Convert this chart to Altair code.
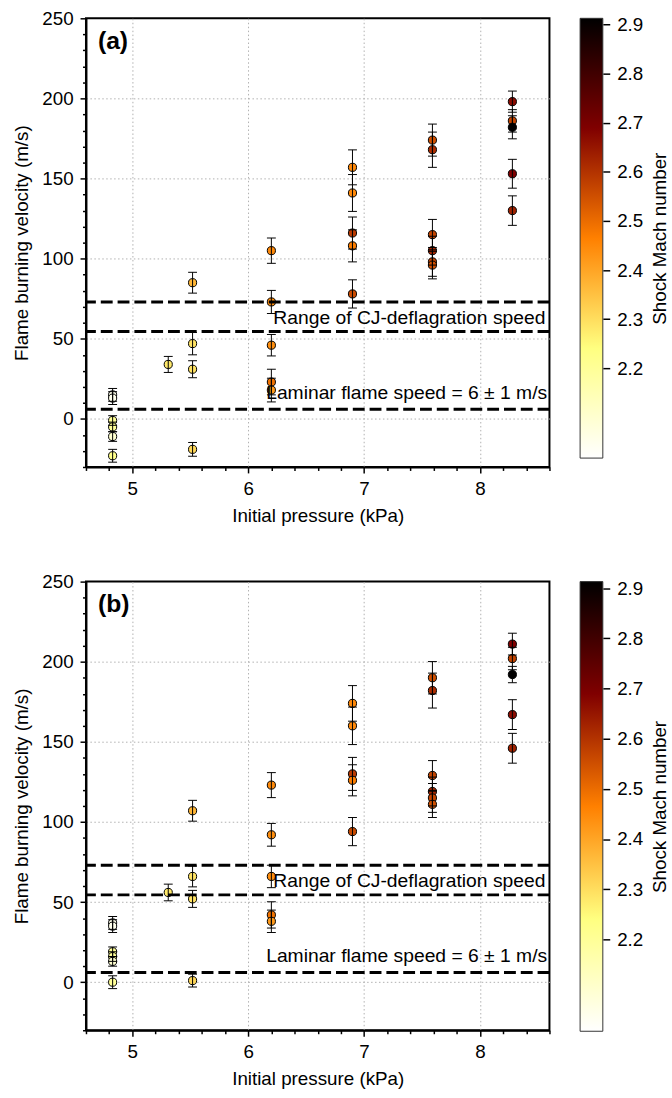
import altair as alt
import pandas as pd

FONT = "Liberation Sans"

# ---------------- data ----------------
pressure = [4.83, 4.83, 4.83, 4.83, 4.83, 4.83,
            5.31,
            5.52, 5.52, 5.52, 5.52,
            6.2, 6.2, 6.2, 6.2, 6.2,
            6.9, 6.9, 6.9, 6.9, 6.9,
            7.59, 7.59, 7.59, 7.59, 7.59, 7.59,
            8.28, 8.28, 8.28, 8.28, 8.28]

# panel (a)
a_velocity = [15, 13, -1, -5, -11, -23,
              34,
              85, 47, 31, -19,
              105, 73, 46, 23, 18,
              157, 141, 116, 108, 78,
              174, 168, 115, 105, 98, 96,
              198, 186, 182, 153, 130]
a_error = [4, 4, 3, 3, 3, 4,
           5,
           6.5, 7, 5.3, 4.3,
           7.9, 7.2, 6.7, 8, 7.4,
           10.9, 11.5, 10, 10, 8.8,
           10, 11, 9.5, 9, 9, 8.6,
           6.6, 7, 7.2, 9, 9.2]
a_mach = [2.05, 2.05, 2.2, 2.2, 2.1, 2.22,
          2.28,
          2.37, 2.29, 2.29, 2.31,
          2.45, 2.44, 2.44, 2.49, 2.42,
          2.45, 2.45, 2.59, 2.47, 2.56,
          2.55, 2.61, 2.57, 2.62, 2.57, 2.55,
          2.67, 2.57, 2.91, 2.69, 2.63]

# panel (b)
b_velocity = [37, 35, 19, 16, 13, 0,
              56,
              107, 66, 52, 1,
              123, 92, 66, 42, 38,
              174, 160, 130, 126, 94,
              190, 182, 129, 119, 115, 111,
              211, 202, 192, 167, 146]
b_error = [4, 4, 3, 3, 3, 4,
           5.2,
           6.5, 6.5, 5.3, 4,
           7.8, 7.1, 7, 8.2, 7,
           11.1, 11.7, 10.3, 9.7, 8.8,
           10.1, 10.9, 9.3, 9, 9, 8.2,
           6.8, 7, 5.1, 9.3, 9.3]
b_mach = [2.05, 2.05, 2.2, 2.2, 2.1, 2.2,
          2.28,
          2.37, 2.29, 2.29, 2.31,
          2.45, 2.44, 2.44, 2.49, 2.42,
          2.45, 2.45, 2.59, 2.47, 2.56,
          2.55, 2.61, 2.57, 2.62, 2.57, 2.55,
          2.69, 2.57, 2.91, 2.67, 2.63]

# reference lines (m/s)
ref_lines = [73, 54.5, 6]
ann_text = ["Range of CJ-deflagration speed", "Laminar flame speed = 6 \u00b1 1 m/s"]
ann_x = [8.565, 8.58]
ann_y = [63, 16]

# axis ticks
x_ticks = [4.6, 4.8, 5.0, 5.2, 5.4, 5.6, 5.8, 6.0, 6.2, 6.4, 6.6, 6.8, 7.0,
           7.2, 7.4, 7.6, 7.8, 8.0, 8.2, 8.4, 8.6]
y_ticks = [-30, -20, -10, 0, 10, 20, 30, 40, 50, 60, 70, 80, 90, 100, 110, 120,
           130, 140, 150, 160, 170, 180, 190, 200, 210, 220, 230, 240, 250]
cbar_ticks = [2.2, 2.3, 2.4, 2.5, 2.6, 2.7, 2.8, 2.9]

# afmhot_r colormap stops
mach_stops = [2.017, 2.241, 2.465, 2.689, 2.913]
mach_colors = ["#ffffff", "#ffff80", "#ff8000", "#800000", "#000000"]

X_DOMAIN = [4.6, 8.6]
Y_DOMAIN = [-30, 250]
PANEL_W, PANEL_H = 469, 454
X_TITLE = "Initial pressure (kPa)"
Y_TITLE = "Flame burning velocity (m/s)"

xs = alt.Scale(domain=X_DOMAIN, nice=False, zero=False)
ys = alt.Scale(domain=Y_DOMAIN, nice=False, zero=False)
cscale = alt.Scale(domain=mach_stops, range=mach_colors, interpolate="rgb")

x_major = "abs(datum.value - round(datum.value)) < 0.001"
y_major = "datum.value % 50 === 0"
y_grid = "datum.value % 50 === 0 && datum.value < 250"

x_axis = alt.Axis(
    values=x_ticks,
    labelExpr=f"{x_major} ? format(datum.value, 'd') : ''",
    tickSize={"condition": {"test": x_major, "value": 6}, "value": 3.5},
    gridOpacity={"condition": {"test": x_major, "value": 1}, "value": 0},
    labelFlush=False, labelOverlap=False, labelPadding=7, titlePadding=8,
)
y_axis = alt.Axis(
    values=y_ticks,
    labelExpr=f"{y_major} ? format(datum.value, 'd') : ''",
    tickSize={"condition": {"test": y_major, "value": 6}, "value": 3.5},
    gridOpacity={"condition": {"test": y_grid, "value": 1}, "value": 0},
    labelFlush=False, labelOverlap=False, labelPadding=7, titlePadding=10,
)


def X(field):
    return alt.X(field, scale=xs, axis=x_axis, title=X_TITLE)


def Y(field):
    return alt.Y(field, scale=ys, axis=y_axis, title=Y_TITLE)


def make_panel(velocity, error, mach, tag):
    df = pd.DataFrame({"p": pressure, "v": velocity, "err": error, "mach": mach})
    base = alt.Chart(df).transform_calculate(
        lo="datum.v - datum.err", hi="datum.v + datum.err"
    )
    pts = base.mark_circle(size=68, opacity=1, stroke="black", strokeWidth=1).encode(
        x=X("p:Q"), y=Y("v:Q"),
        color=alt.Color("mach:Q", scale=cscale, legend=None),
    )
    bars = base.mark_rule(color="black", strokeWidth=1).encode(
        x=X("p:Q"), y=Y("lo:Q"), y2="hi:Q",
    )
    cap_lo = base.mark_tick(orient="horizontal", color="black", size=9,
                            thickness=1, opacity=1).encode(x=X("p:Q"), y=Y("lo:Q"))
    cap_hi = base.mark_tick(orient="horizontal", color="black", size=9,
                            thickness=1, opacity=1).encode(x=X("p:Q"), y=Y("hi:Q"))
    lines = alt.Chart(pd.DataFrame({"y": ref_lines})).mark_rule(
        color="black", strokeWidth=3, strokeDash=[12, 5]
    ).encode(y=Y("y:Q"))
    ann = alt.Chart(pd.DataFrame({"x": ann_x, "y": ann_y, "t": ann_text})).mark_text(
        align="right", baseline="middle", fontSize=19.5, font=FONT, color="black"
    ).encode(x=X("x:Q"), y=Y("y:Q"), text="t:N")
    lab = alt.Chart(pd.DataFrame({"x": [4.703], "y": [236], "t": [tag]})).mark_text(
        align="left", baseline="middle", fontSize=25, font=FONT,
        fontWeight="bold", color="black"
    ).encode(x=X("x:Q"), y=Y("y:Q"), text="t:N")
    return alt.layer(pts, lines, bars, cap_lo, cap_hi, ann, lab).properties(
        width=PANEL_W, height=PANEL_H,
        view=alt.ViewBackground(stroke="black", strokeWidth=2),
    )


def make_colorbar(height):
    vmin, vmax = mach_stops[0], mach_stops[-1]
    grad = alt.Gradient(
        gradient="linear", x1=0, x2=0, y1=1, y2=0,
        stops=[alt.GradientStop(offset=(s - vmin) / (vmax - vmin), color=c)
               for s, c in zip(mach_stops, mach_colors)],
    )
    cb = pd.DataFrame({"lo": [vmin], "hi": [vmax]})
    return alt.Chart(cb).mark_rect(color=grad, stroke="#333333", strokeWidth=1).encode(
        x=alt.value(0), x2=alt.value(23),
        y=alt.Y("lo:Q", scale=alt.Scale(domain=[vmin, vmax], nice=False, zero=False),
                axis=alt.Axis(orient="right", values=cbar_ticks, format=".1f",
                              title="Shock Mach number", titleAngle=270,
                              titleBaseline="top",
                              titlePadding=8, labelPadding=7, tickSize=7,
                              domain=False, grid=False, labelFlush=False,
                              labelOverlap=False)),
        y2="hi:Q",
    ).properties(width=23, height=height, view=alt.ViewBackground(stroke=None))


chart = alt.concat(
    make_panel(a_velocity, a_error, a_mach, "(a)"),
    make_colorbar(445),
    make_panel(b_velocity, b_error, b_mach, "(b)"),
    make_colorbar(455),
    columns=2,
    spacing={"row": 116, "column": 31},
    bounds="flush",
).properties(
    padding={"left": 12, "top": 2, "right": 2, "bottom": 2}
).configure(font=FONT).configure_axis(
    labelFontSize=19, titleFontSize=19, titleFontWeight="normal",
    labelFont=FONT, titleFont=FONT,
    labelColor="black", titleColor="black",
    domainColor="black", domainWidth=2,
    tickColor="black", tickWidth=1.5,
    gridColor="#b0b0b0", gridDash=[1.5, 2.5], gridWidth=1,
)

chart.save("out.html", embed_options={"renderer": "svg", "actions": False})
